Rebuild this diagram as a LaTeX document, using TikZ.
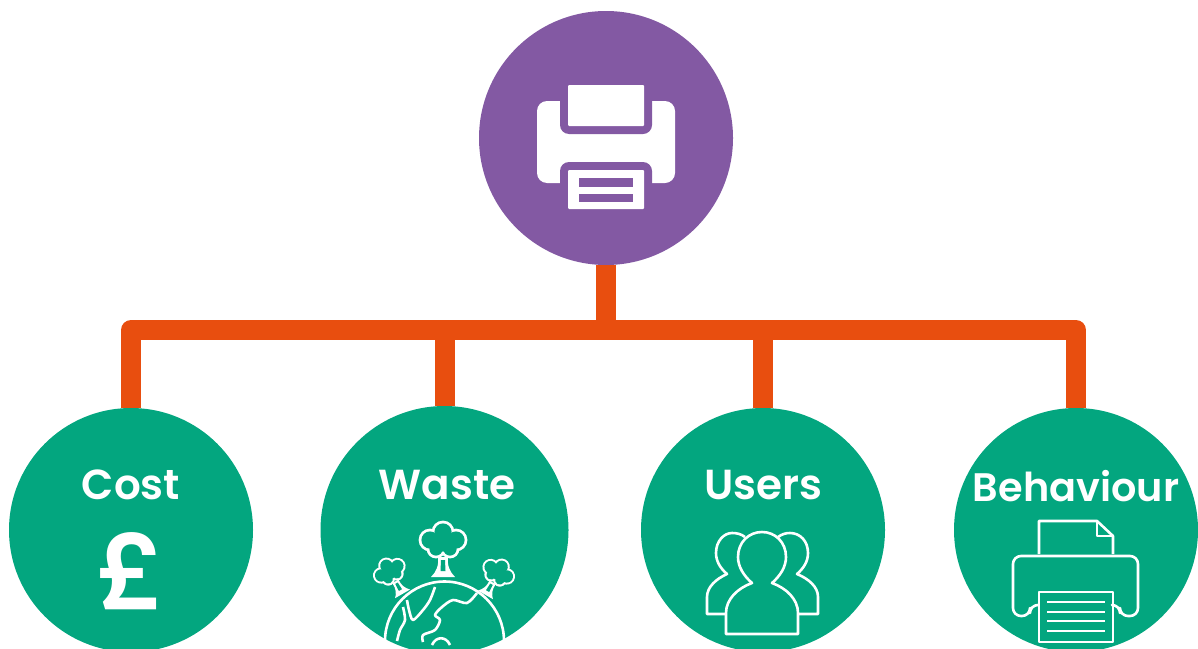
\documentclass[tikz,border=0pt]{standalone}
\usepackage{fontspec}
\setmainfont{Poppins}[BoldFont={Poppins SemiBold}]
\usepackage{xcolor}
\definecolor{hubpurple}{HTML}{8359A3}
\definecolor{busorange}{HTML}{E84E0F}
\definecolor{leafgreen}{HTML}{03A67F}
\usetikzlibrary{positioning,backgrounds}
\tikzset{
	hub/.style={circle,fill=hubpurple,minimum size=254pt,inner sep=0pt},
	leaf/.style={circle,fill=leafgreen,minimum size=244pt,inner sep=0pt},
	leaflabel/.style={text=white,inner sep=0pt,font=\fontsize{42}{42}\selectfont\bfseries},
	link/.style={draw=busorange,line width=20pt,line join=round},
	iconline/.style={draw=white,line width=2.6pt,line join=round},
	tree/.pic={
		\foreach \px/\py/\pr in {-13/-2/10,0/-10/10,13/-2/10,-7/7/8,7/7/8}
			\fill[white] (\px,\py) circle (\pr+1.4);
		\foreach \px/\py/\pr in {-13/-2/10,0/-10/10,13/-2/10,-7/7/8,7/7/8,0/0/11}
			\fill[leafgreen] (\px,\py) circle (\pr-1.4);
		\fill[white] (-5,15) .. controls (-4,24) and (-7,30) .. (-12,35) -- (12,35) .. controls (7,30) and (4,24) .. (5,15) -- cycle;
		\fill[leafgreen] (-2,18) -- (2,18) -- (2.5,29) -- (-2.5,29) -- cycle;
	}
}
\begin{document}
\begin{tikzpicture}[x=1pt,y=-1pt]
	\useasboundingbox (0,0) rectangle (1198,648);
	\clip (0,0) rectangle (1198,648);
	% draw nodes
	\node[hub] (printer) at (606,138) {};
	\node[leaf] (cost) at (131,530) {};
	\node[leaf,minimum size=248pt] (waste) at (444.5,530) {};
	\node[leaf] (users) at (763,530) {};
	\node[leaf] (behaviour) at (1076,530) {};
	\coordinate (busmid) at (606,330);
	
	% draw labels
	\node[leaflabel] (costlabel) at (131,485) {Cost};
	\node[leaflabel] (wastelabel) at (447,485) {Waste};
	\node[leaflabel] (userslabel) at (763,485) {Users};
	\node[leaflabel,font=\fontsize{39.8}{40}\selectfont\bfseries] (behaviourlabel) at (1076,486) {Behaviour};
	\node[text=white,inner sep=0pt,font=\fontsize{105}{105}\selectfont\bfseries] (pound) at (131,571) {£};
	
	% draw connectors
	\begin{pgfonlayer}{background}
		\draw[link] (printer) -- (busmid);
		\draw[link] (cost) |- (busmid) -| (behaviour);
		\foreach \leafname in {waste,users}
			\draw[link] (\leafname) -- (\leafname |- busmid);
	\end{pgfonlayer}
	
	%%%printer in the hub
	\fill[white,rounded corners=10pt] (537,101) rectangle (675,183);
	\fill[hubpurple,rounded corners=9pt] (560,90) rectangle (652,134);
	\fill[hubpurple,rounded corners=9pt] (560,162) rectangle (652,195);
	\fill[white,rounded corners=1pt] (568,85) rectangle (644,126);
	\fill[white,rounded corners=1pt] (568,170) rectangle (644,209);
	\fill[hubpurple] (579,178) rectangle (633,187);
	\fill[hubpurple] (579,194) rectangle (633,202);
	
	%%%trees and earth
	\pic at (443,542) {tree};
	\pic[rotate=30,scale=.72] at (390,572) {tree};
	\pic[rotate=-30,scale=.72] at (498,573) {tree};
	\draw[iconline] (444.5,641) circle (59.5);
	\draw[iconline] plot[smooth] coordinates {(435,587) (430,600) (423,610) (413,620) (409,610) (407,600)};
	\draw[iconline] plot[smooth] coordinates {(403,607) (405,620) (400,630) (397,641)};
	\draw[iconline] plot[smooth] coordinates {(477,593) (467,603) (453,600) (442,607) (435,615) (440,620) (435,630) (423,635) (423,642)};
	\draw[iconline] (432,645) .. controls (436,636) and (446,636) .. (450,645);
	
	%%%users
	\draw[iconline] (726,614) -- (707,614) -- (707,597) .. controls (707,587) and (716,579) .. (727,574) .. controls (720,568) and (716,561) .. (716,553) .. controls (716,541) and (724,533) .. (732,533) .. controls (737,533) and (741,534) .. (745,537);
	\draw[iconline] (798,614) -- (818,614) -- (818,597) .. controls (818,587) and (809,579) .. (797,574) .. controls (804,568) and (808,561) .. (808,553) .. controls (808,541) and (800,533) .. (790,533) .. controls (786,533) and (782,534) .. (778,537);
	\draw[iconline] (726,634) -- (726,613) .. controls (726,599) and (738,588) .. (752,583) .. controls (744,576) and (738,567) .. (738,557) .. controls (738,542) and (749,532) .. (762,532) .. controls (775,532) and (786,542) .. (786,557) .. controls (786,567) and (780,576) .. (772,583) .. controls (786,588) and (798,599) .. (798,613) -- (798,634) -- cycle;
	
	%%%small printer
	\draw[iconline] (1039,554) -- (1039,521) -- (1097,521) -- (1113,536) -- (1113,554);
	\draw[iconline] (1097,521) -- (1097,536) -- (1113,536);
	\draw[iconline,rounded corners=8pt] (1039,605) -- (1030,605) -- (1030,616) -- (1013,616) -- (1013,556) -- (1138,556) -- (1138,616) -- (1120,616) -- (1120,605) -- (1113,605);
	\draw[iconline] (1039,592) rectangle (1113,642);
	\foreach \liney in {602,612,621,631}
		\draw[iconline] (1047,\liney) -- (1105,\liney);
\end{tikzpicture}
\end{document}
